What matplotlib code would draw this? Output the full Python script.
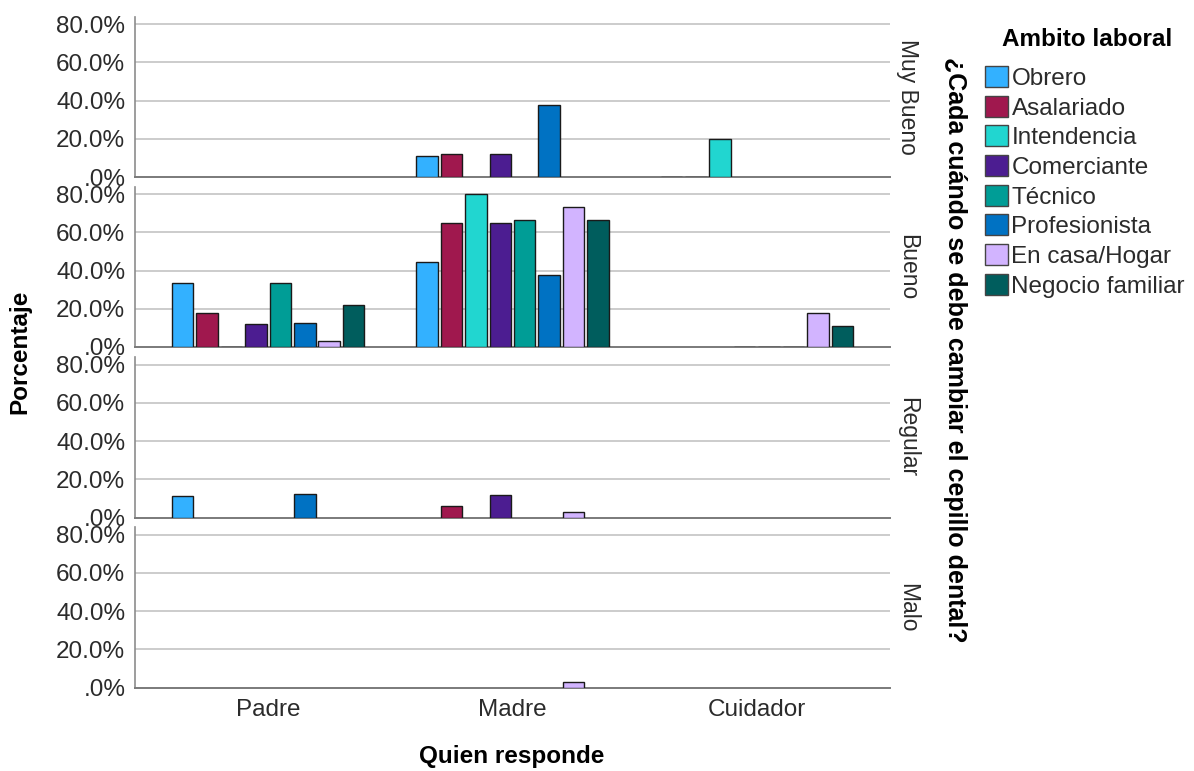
import numpy as np
import matplotlib
matplotlib.use('Agg')
import matplotlib.pyplot as plt
from matplotlib.patches import Patch
from matplotlib.ticker import FixedLocator

plt.rcParams['font.family'] = ['Liberation Sans', 'DejaVu Sans']

categories = ['Padre', 'Madre', 'Cuidador']
rows = ['Muy Bueno', 'Bueno', 'Regular', 'Malo']
series = ['Obrero', 'Asalariado', 'Intendencia', 'Comerciante', 'Técnico',
          'Profesionista', 'En casa/Hogar', 'Negocio familiar']
colors = ['#33B1FF', '#A0184E', '#21D6D0', '#4C1D91', '#009D96',
          '#0072C3', '#D2B4FF', '#005D5D']
yticks = [0, 20, 40, 60, 80]
ytick_labels = ['.0%', '20.0%', '40.0%', '60.0%', '80.0%']

nan = np.nan
# each row: one list per series, values for [Padre, Madre, Cuidador]
muy_bueno = [
    [nan, 11.1, 0.0],
    [nan, 11.8, 0.0],
    [nan, nan, 20.0],
    [nan, 11.8, nan],
    [nan, nan, nan],
    [nan, 37.5, nan],
    [nan, nan, nan],
    [nan, nan, nan],
]
bueno = [
    [33.3, 44.4, nan],
    [17.6, 64.7, nan],
    [0.0, 80.0, nan],
    [11.8, 64.7, 0.0],
    [33.3, 66.7, 0.0],
    [12.5, 37.5, 0.0],
    [2.9, 73.5, 17.6],
    [22.2, 66.7, 11.1],
]
regular = [
    [11.1, nan, nan],
    [nan, 5.9, nan],
    [nan, nan, nan],
    [nan, 11.8, nan],
    [nan, nan, nan],
    [12.5, nan, nan],
    [nan, 2.9, nan],
    [nan, nan, nan],
]
malo = [
    [nan, nan, nan],
    [nan, nan, nan],
    [nan, nan, nan],
    [nan, nan, nan],
    [nan, nan, nan],
    [nan, nan, nan],
    [nan, 2.9, nan],
    [nan, nan, nan],
]
panels = [muy_bueno, bueno, regular, malo]

W, H = 1194, 771
fig = plt.figure(figsize=(W / 100, H / 100), dpi=100)

left_px, right_px = 135, 890
zeros_px = [177, 347, 517.5, 687.5]
ymax = 84.0
px_per_unit = 1.909
panel_h = ymax * px_per_unit

n = len(series)
pitch = 0.1
bw = 0.088
x = np.arange(len(categories))
text_col = '#2b2b2b'
fs = 17.5

axes = []
for r, (name, data) in enumerate(zip(rows, panels)):
    zb = zeros_px[r]
    ax = fig.add_axes([left_px / W, 1 - zb / H, (right_px - left_px) / W, panel_h / H])
    axes.append(ax)
    for i, (s, c) in enumerate(zip(series, colors)):
        vals = np.array(data[i], dtype=float)
        mask = ~np.isnan(vals)
        if mask.any():
            ax.bar(x[mask] + (i - (n - 1) / 2) * pitch, vals[mask], width=bw,
                   color=c, edgecolor='#1a1a1a', linewidth=1.0, zorder=3)
    ax.set_xlim(-0.545, 2.545)
    ax.set_ylim(0, ymax)
    ax.yaxis.set_major_locator(FixedLocator(yticks))
    ax.set_yticklabels(ytick_labels)
    ax.tick_params(axis='y', length=0, pad=7, labelsize=fs, labelcolor=text_col)
    for yv in yticks[1:]:
        ax.axhline(yv, color='#c8c8c8', lw=1.3, zorder=1)
    for sp in ['top', 'right']:
        ax.spines[sp].set_visible(False)
    ax.spines['left'].set_color('#8c8c8c')
    ax.spines['left'].set_linewidth(1.2)
    ax.spines['bottom'].set_color('#7a7a7a')
    ax.spines['bottom'].set_linewidth(1.4)
    ax.set_xticks(x)
    if r < len(rows) - 1:
        ax.tick_params(axis='x', length=0, labelbottom=False)
    else:
        ax.set_xticklabels(categories)
        ax.tick_params(axis='x', length=0, pad=8, labelsize=fs, labelcolor=text_col)
    ax.patch.set_alpha(0)
    # facet label
    fig.text(908 / W, 1 - (zb - panel_h / 2) / H, name, rotation=-90,
             ha='center', va='center', fontsize=16.5, color=text_col)

fig.text(955 / W, 1 - 350 / H, '¿Cada cuándo se debe cambiar el cepillo dental?',
         rotation=-90, ha='center', va='center', fontsize=18, fontweight='bold',
         color='black')
fig.text(20 / W, 1 - 352 / H, 'Porcentaje', rotation=90, ha='center', va='center',
         fontsize=fs, fontweight='bold', color='black')
fig.text(512 / W, 1 - 757 / H, 'Quien responde', ha='center', va='center',
         fontsize=fs, fontweight='bold', color='black')

# legend title
fig.text(1087 / W, 1 - 40 / H, 'Ambito laboral', ha='center', va='center',
         fontsize=fs, fontweight='bold', color='black')
handles = [Patch(facecolor=c, edgecolor='#444444', linewidth=1.0, label=s)
           for s, c in zip(series, colors)]
leg = fig.legend(handles=handles, loc='upper left',
                 bbox_to_anchor=(985 / W, 1 - 66 / H), frameon=False,
                 fontsize=fs,
                 handlelength=0.95, handleheight=0.95, handletextpad=0.14,
                 labelspacing=0.24, borderaxespad=0, borderpad=0.0)
for t in leg.get_texts():
    t.set_color(text_col)

fig.savefig('out.png', dpi=100)
